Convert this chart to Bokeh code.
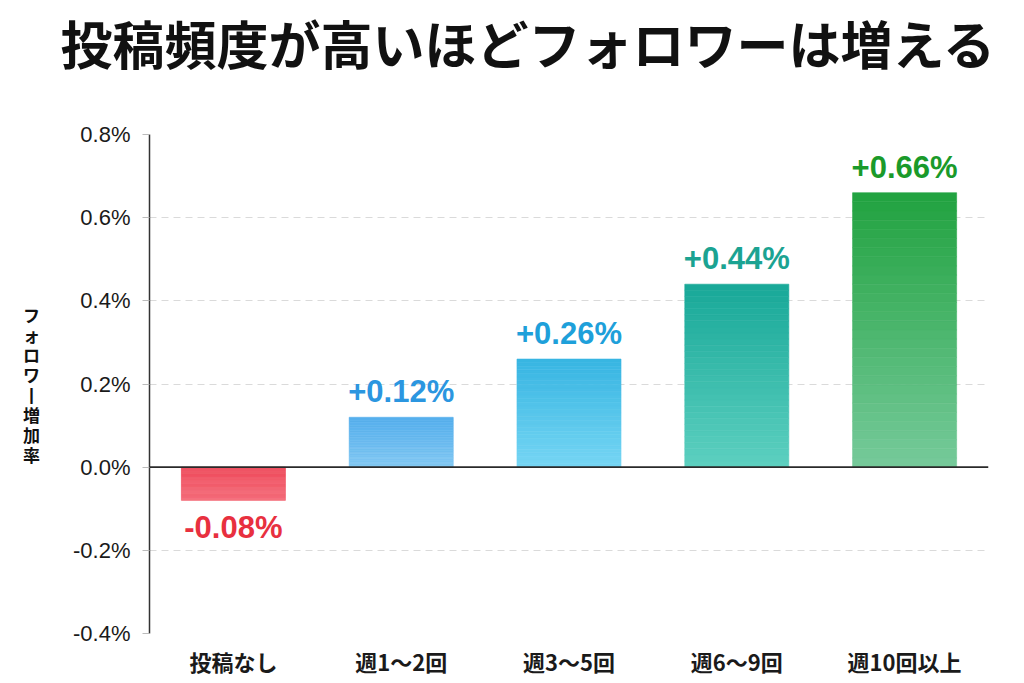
from bokeh.plotting import figure
from bokeh.models import ColumnDataSource, FixedTicker, PrintfTickFormatter, Span, Title
from bokeh.core.properties import value
from bokeh.embed import file_html
from bokeh.resources import INLINE

# ---- data ----
categories = ["投稿なし", "週1〜2回", "週3〜5回", "週6〜9回", "週10回以上"]
values = [-0.08, 0.12, 0.26, 0.44, 0.66]
value_labels = ["-0.08%", "+0.12%", "+0.26%", "+0.44%", "+0.66%"]
y_ticks = [-0.4, -0.2, 0.0, 0.2, 0.4, 0.6, 0.8]
title_text = "投稿頻度が高いほどフォロワーは増える"
y_label_text = "フォロワー増加率"

# ---- styles ----
top_colors = ["#EE4A5A", "#55AFED", "#37B5E2", "#18A898", "#21A23F"]
bottom_colors = ["#F46C7A", "#80C7F2", "#76D6F4", "#5DD0C0", "#76CA9B"]
label_colors = ["#E8303F", "#2B96E0", "#1EA0DA", "#1BA392", "#1A9A2A"]


def hex2rgb(h):
    h = h.lstrip("#")
    return tuple(int(h[i:i + 2], 16) for i in (0, 2, 4))


def mix(c1, c2, t):
    a, b = hex2rgb(c1), hex2rgb(c2)
    return "#%02x%02x%02x" % tuple(round(a[k] + (b[k] - a[k]) * t) for k in range(3))


# gradient bars built as thin slices of each bar
N = 30
xs, bots, tops, cols = [], [], [], []
for cat, v, ct, cb in zip(categories, values, top_colors, bottom_colors):
    for i in range(N):
        lo = v * i / N
        hi = v * (i + 1) / N
        t = (i + 0.5) / N  # 0 near zero-line, 1 at bar end
        col = mix(cb, ct, t) if v >= 0 else mix(ct, cb, t)
        xs.append(cat)
        bots.append(min(lo, hi))
        tops.append(max(lo, hi))
        cols.append(col)

bar_src = ColumnDataSource(dict(x=xs, bottom=bots, top=tops, color=cols))

W, H = 1024, 683
p = figure(
    x_range=categories, y_range=(-0.4, 0.8), title=None,
    width=W, height=H, output_backend="svg", toolbar_location=None,
    min_border_left=149, min_border_right=36, min_border_bottom=50, min_border_top=134,
)
p.outline_line_color = None
p.background_fill_color = "white"
p.border_fill_color = "white"

p.vbar(x="x", bottom="bottom", top="top", width=0.62, source=bar_src,
       fill_color="color", line_color="color", line_width=0.6)

# zero line
p.add_layout(Span(location=0, dimension="width", line_color="#2a2a2a", line_width=1.6))

# value labels
pos = [i for i, v in enumerate(values) if v >= 0]
neg = [i for i, v in enumerate(values) if v < 0]
pos_src = ColumnDataSource(dict(
    x=[categories[i] for i in pos], y=[values[i] for i in pos],
    t=[value_labels[i] for i in pos], c=[label_colors[i] for i in pos]))
neg_src = ColumnDataSource(dict(
    x=[categories[i] for i in neg], y=[values[i] for i in neg],
    t=[value_labels[i] for i in neg], c=[label_colors[i] for i in neg]))
p.text(x="x", y="y", text="t", source=pos_src, text_color="c",
       text_align="center", text_baseline="bottom", y_offset=-8,
       text_font=value("Liberation Sans"), text_font_style="bold", text_font_size="31px")
p.text(x="x", y="y", text="t", source=neg_src, text_color="c",
       text_align="center", text_baseline="top", y_offset=10,
       text_font=value("Liberation Sans"), text_font_style="bold", text_font_size="31px")

# spacer between title and plot, then the title above it
p.add_layout(Title(text=" ", text_font_size="1px", standoff=52), "above")
p.add_layout(Title(text=title_text, align="left", offset=-89,
                   text_font="Noto Sans CJK JP", text_font_style="bold",
                   text_font_size="52px", text_color="#111111", standoff=0), "above")

# y axis
p.yaxis.ticker = FixedTicker(ticks=y_ticks)
p.yaxis.formatter = PrintfTickFormatter(format="%.1f%%")
p.yaxis.axis_line_color = "#333333"
p.yaxis.axis_line_width = 1.5
p.yaxis.major_tick_out = 7
p.yaxis.major_tick_in = 0
p.yaxis.major_tick_line_color = "#BBBBBB"
p.yaxis.minor_tick_line_color = None
p.yaxis.major_label_standoff = 12
p.yaxis.major_label_text_font = "Liberation Sans"
p.yaxis.major_label_text_font_size = "22px"
p.yaxis.major_label_text_color = "#1a1a1a"

# stacked (vertical writing) y-axis label
p.yaxis.axis_label = "\n".join("丨" if ch == "ー" else ch for ch in y_label_text)
p.yaxis.axis_label_orientation = "horizontal"
p.yaxis.axis_label_standoff = 30
p.yaxis.axis_label_text_font = "Noto Sans CJK JP"
p.yaxis.axis_label_text_font_style = "bold"
p.yaxis.axis_label_text_font_size = "17px"
p.yaxis.axis_label_text_color = "#111111"
p.yaxis.axis_label_text_line_height = 0.8

# x axis
p.xaxis.axis_line_color = None
p.xaxis.major_tick_line_color = None
p.xaxis.major_tick_out = 0
p.xaxis.major_tick_in = 0
p.xaxis.minor_tick_line_color = None
p.xaxis.major_label_standoff = 11
p.xaxis.major_label_text_font = "Noto Sans CJK JP"
p.xaxis.major_label_text_font_style = "bold"
p.xaxis.major_label_text_font_size = "22px"
p.xaxis.major_label_text_color = "#1a1a1a"

# grid
p.xgrid.grid_line_color = None
p.ygrid.grid_line_color = "#DADADA"
p.ygrid.grid_line_dash = "7 5"
p.ygrid.grid_line_width = 1

open("out.html", "w").write(file_html(p, INLINE))
